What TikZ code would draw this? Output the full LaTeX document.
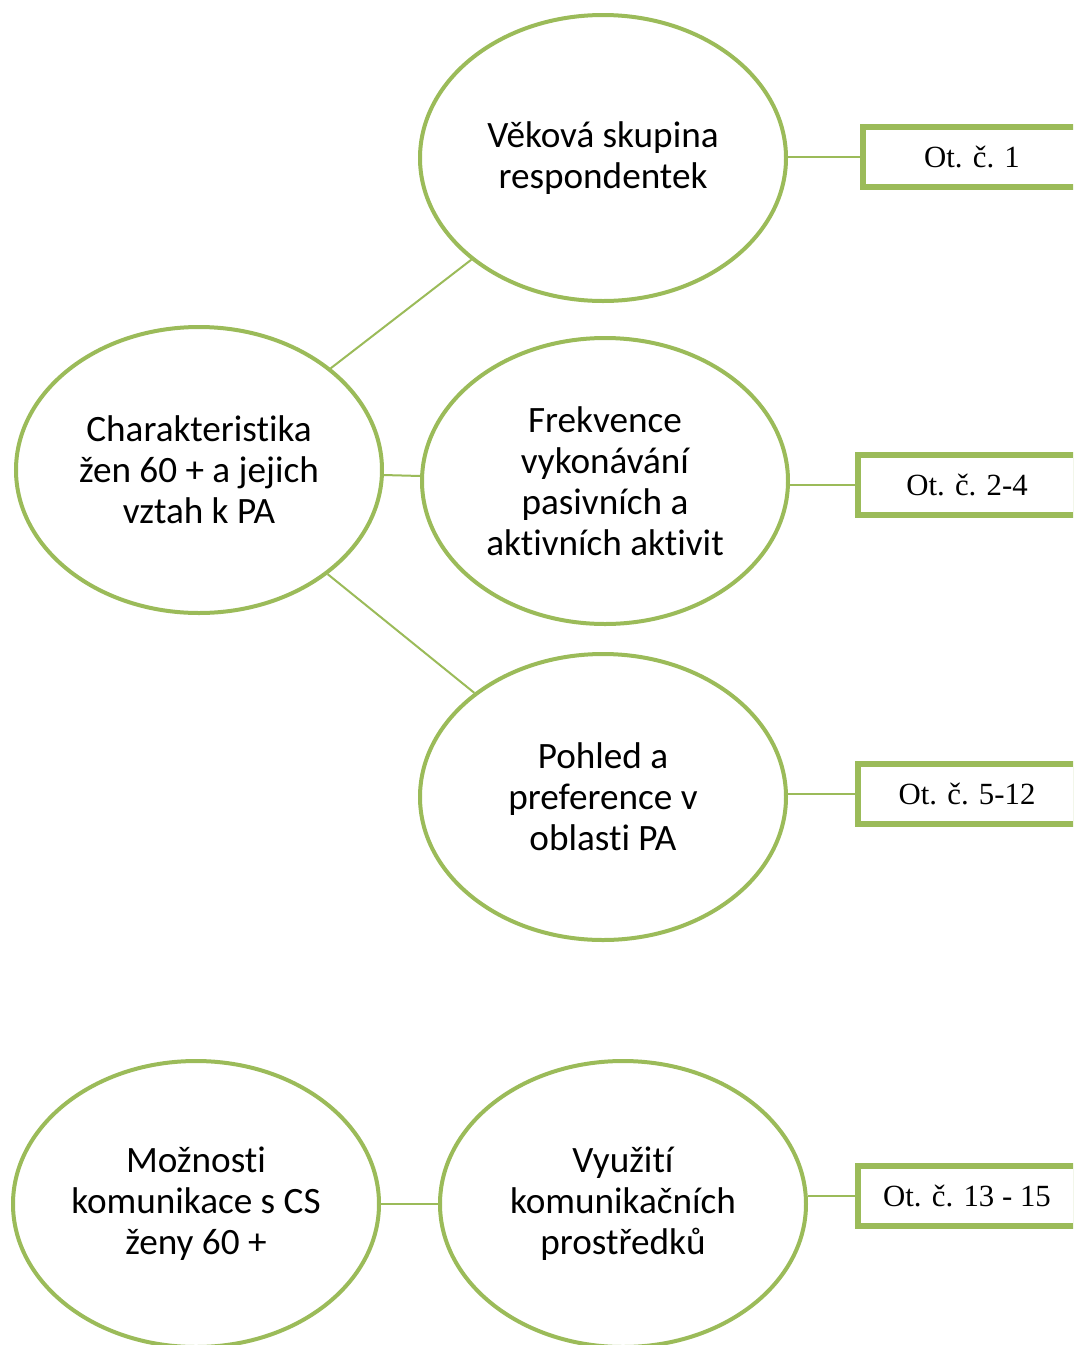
\documentclass[tikz,border=0pt]{standalone}
\usepackage{fontspec}
\setmainfont{Carlito}[Ligatures=NoCommon]
\newfontfamily\otfont{Liberation Serif}
\usetikzlibrary{shapes.geometric}
\definecolor{listgreen}{HTML}{9BBB59}
\begin{document}
\begin{tikzpicture}[x=0.5pt, y=-0.5pt, line join=miter,
    bubble/.style={draw=listgreen, line width=2pt, ellipse, fill=white, minimum width=183pt, minimum height=143pt, inner sep=0pt, align=center, font=\fontsize{18.6}{20.5}\selectfont},
    otbox/.style={draw=listgreen, line width=2.6pt, fill=white, minimum width=109pt, minimum height=30pt, inner sep=0pt, font=\otfont\fontsize{15.4}{18}\selectfont},
    link/.style={draw=listgreen, line width=1pt}]
        \useasboundingbox (0,0) rectangle (1073,1345);
        \clip (0,0) rectangle (1073,1345);
        % first group
        \node[bubble] (vek) at (603, 158) {Věková skupina\\respondentek};
        \node[bubble] (char) at (199, 470) {Charakteristika\\žen 60 + a jejich\\vztah k PA};
        \node[bubble] (frek) at (605, 481) {Frekvence\\vykonávání\\pasivních a\\aktivních aktivit};
        \node[bubble] (pohled) at (603, 797) {Pohled a\\preference v\\oblasti PA};
        \node[otbox] (ot1) at (972, 157) {Ot. č. 1};
        \node[otbox] (ot2) at (967, 485) {Ot. č. 2-4};
        \node[otbox] (ot3) at (967, 794) {Ot. č. 5-12};
        % second group
        \node[bubble] (mozn) at (196, 1204) {Možnosti\\komunikace s CS\\ženy 60 +};
        \node[bubble] (vyuz) at (623, 1204) {Využití\\komunikačních\\prostředků};
        \node[otbox] (ot4) at (967, 1196) {Ot. č. 13 - 15};
        % connectors
        \draw[link] (char) -- (vek);
        \draw[link] (char) -- (frek);
        \draw[link] (char) -- (pohled);
        \draw[link] (ot1.west) -- (ot1.west -| vek.east);
        \draw[link] (ot2.west) -- (ot2.west -| frek.east);
        \draw[link] (ot3.west) -- (ot3.west -| pohled.east);
        \draw[link] (mozn) -- (vyuz);
        \draw[link] (ot4.west) -- (ot4.west -| vyuz.east);
\end{tikzpicture}
\end{document}
